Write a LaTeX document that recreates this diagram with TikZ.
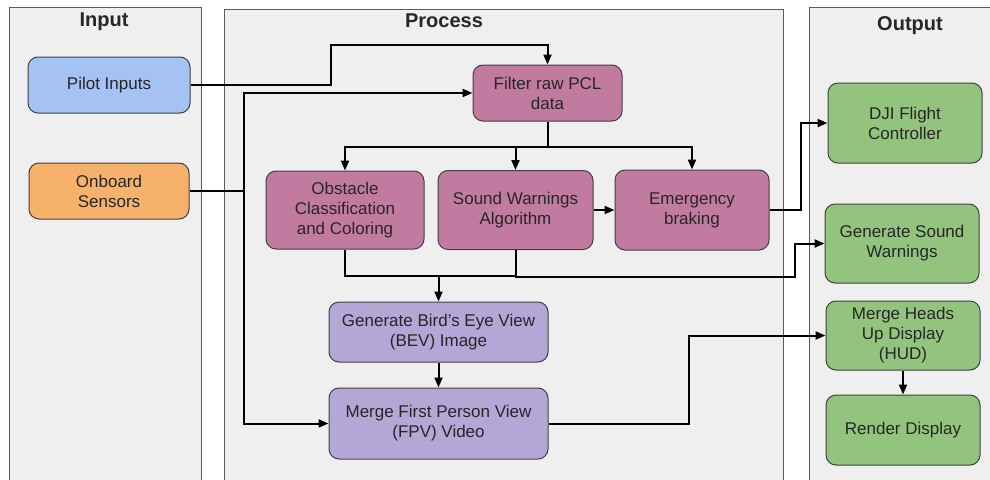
\documentclass[tikz,border=0pt]{standalone}
\usepackage{fontspec}
\setmainfont{Liberation Sans}
\usetikzlibrary{positioning, arrows.meta}

\definecolor{panelgray}{HTML}{EFEFEF}
\definecolor{inblue}{HTML}{A4C2F4}
\definecolor{inorange}{HTML}{F6B26B}
\definecolor{procpink}{HTML}{C27BA0}
\definecolor{procpurple}{HTML}{B4A7D6}
\definecolor{outgreen}{HTML}{93C47D}

\begin{document}
\begin{tikzpicture}[
    x=1pt, y=-1pt,
    panel/.style={draw=black!65, line width=0.9pt, fill=panelgray},
    title/.style={font=\fontsize{20}{24}\selectfont\bfseries, text=black!85},
    block/.style={rectangle, draw=black!75, line width=1pt, rounded corners=10pt,
                  align=center, inner sep=2pt, text=black!85,
                  font=\fontsize{17}{20}\selectfont},
    arr/.style={line width=2pt, -{Triangle[length=10pt, width=8pt]}},
    wire/.style={line width=2pt}
]
  \useasboundingbox (0,0) rectangle (990,479);

  % Panels
  \fill[white] (0,0) rectangle (990,479);
  \draw[panel] (9,7) rectangle (201,490);
  \draw[panel] (224,9) rectangle (783,490);
  \draw[panel] (809,7) rectangle (1000,490);
  \node[title] (tin) at (104,22) {Input};
  \node[title] (tproc) at (444,21) {Process};
  \node[title] (tout) at (910,26) {Output};

  % Input
  \node[block, fill=inblue, minimum width=162pt, minimum height=56pt] (pilot) at (109,85) {Pilot Inputs};
  \node[block, fill=inorange, minimum width=160pt, minimum height=56pt] (sensors) at (109,191) {Onboard\\Sensors};

  % Process
  \node[block, fill=procpink, minimum width=149pt, minimum height=56pt] (filter) at (547.5,93) {Filter raw PCL\\data};
  \node[block, fill=procpink, minimum width=158pt, minimum height=78pt] (obstacle) at (345,210) {Obstacle\\Classification\\and Coloring};
  \node[block, fill=procpink, minimum width=155pt, minimum height=79pt] (sound) at (515.5,210) {Sound Warnings\\Algorithm};
  \node[block, fill=procpink, minimum width=154pt, minimum height=80pt] (brake) at (692,210) {Emergency\\braking};
  \node[block, fill=procpurple, minimum width=219pt, minimum height=60pt] (bev) at (438.5,332) {Generate Bird’s Eye View\\(BEV) Image};
  \node[block, fill=procpurple, minimum width=219pt, minimum height=71pt] (fpv) at (438.5,423.5) {Merge First Person View\\(FPV) Video};

  % Output
  \node[block, fill=outgreen, minimum width=154pt, minimum height=80pt] (dji) at (905,123) {DJI Flight\\Controller};
  \node[block, fill=outgreen, minimum width=154pt, minimum height=79pt] (gsw) at (902,243.5) {Generate Sound\\Warnings};
  \node[block, fill=outgreen, minimum width=154pt, minimum height=69pt] (hud) at (903,335.5) {Merge Heads\\Up Display\\(HUD)};
  \node[block, fill=outgreen, minimum width=154pt, minimum height=70pt] (render) at (903,430) {Render Display};

  % Arrows
  \draw[arr] (pilot.east) -| (331,45) -| (filter.north);
  \draw[arr] (sensors.east) -| (244,93) -- (filter.west);
  \draw[arr] (sensors.east) -| (244,423.5) -- (fpv.west);

  \draw[wire] (filter.south) -- ++(0,25) coordinate (split);
  \draw[arr] (split) -| (obstacle.north);
  \draw[arr] (split) -| (brake.north);
  \draw[arr] (split -| sound.north) -- (sound.north);
  \draw[arr] (sound.east) -- (sound.east -| brake.west);
  \draw[arr] (brake.east) -- ++(31,0) |- (dji.west);

  \coordinate (join) at (438.5,276);
  \draw[wire] (obstacle.south) |- (sound.south |- join) -- (sound.south);
  \draw[arr] (join) -- (bev.north);
  \draw[arr] (sound.south) |- (795,277) |- (gsw.west);
  \draw[arr] (bev.south) -- (fpv.north);
  \draw[arr] (fpv.east) -- ++(140,0) |- (hud.west);
  \draw[arr] (hud.south) -- (render.north);
\end{tikzpicture}
\end{document}
